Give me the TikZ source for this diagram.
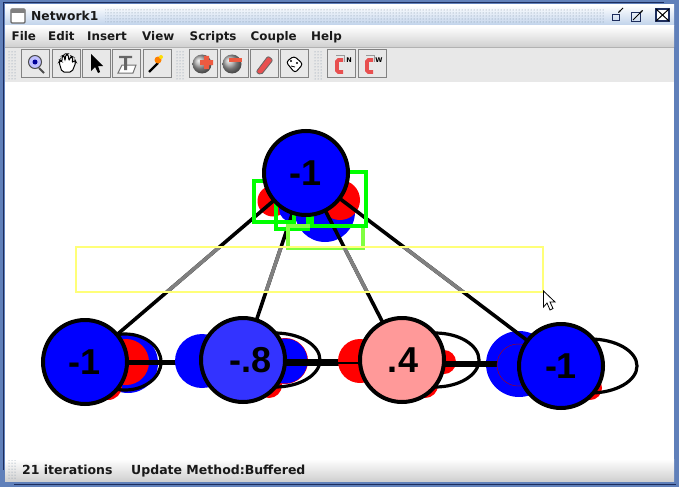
\documentclass[tikz,border=0pt]{standalone}
\usepackage{fontspec}
\setmainfont{DejaVu Sans}
\newfontfamily\neuronfont{Liberation Sans}
\usetikzlibrary{positioning,arrows.meta,shapes.geometric,patterns}
\definecolor{FrameBlue}{RGB}{96,128,186}
\definecolor{FrameDark}{RGB}{28,44,92}
\definecolor{TitleLow}{RGB}{190,209,234}
\definecolor{BarLow}{RGB}{208,208,208}
\definecolor{ToolGray}{RGB}{232,232,232}
\definecolor{ButtonEdge}{RGB}{130,130,130}
\definecolor{GripDots}{RGB}{120,140,160}
\definecolor{ActiveBlue}{RGB}{0,0,255}
\definecolor{MidBlue}{RGB}{51,51,255}
\definecolor{ActiveRed}{RGB}{255,0,0}
\definecolor{PaleRed}{RGB}{255,153,153}
\definecolor{BoxGreen}{RGB}{0,255,0}
\definecolor{PaleGreen}{RGB}{128,255,64}
\definecolor{BoxYellow}{RGB}{255,255,120}
\definecolor{ClampRed}{RGB}{232,80,80}
\tikzset{
  neuron/.style={circle,draw=black,line width=4pt,minimum size=84pt,inner sep=0pt,
    font=\neuronfont\bfseries\fontsize{36}{36}\selectfont},
  blueblob/.style={circle,fill=ActiveBlue,inner sep=0pt},
  redblob/.style={circle,fill=ActiveRed,inner sep=0pt},
  selfloop/.style={ellipse,draw=black,line width=3.2pt,inner sep=0pt},
  synapse/.style={line width=3.6pt,draw=black},
  thicksyn/.style={line width=6pt,draw=black},
  selbox/.style={draw=BoxGreen,line width=3.6pt,fill=none},
  menutext/.style={anchor=base west,inner sep=0pt,font=\bfseries\fontsize{11.9}{12}\selectfont,text=black!90},
  statustext/.style={menutext,font=\bfseries\fontsize{12.5}{13}\selectfont},
  toolbtn/.style={draw=ButtonEdge,line width=0.8pt,fill=ToolGray,minimum size=28pt,inner sep=0pt},
  grip/.style={pattern=dots,pattern color=GripDots}
}
\begin{document}
\begin{tikzpicture}[x=1pt,y=-1pt]
  \useasboundingbox (0,0) rectangle (679,487);
  % window
  \fill[FrameBlue] (0,0) rectangle (679,487);
  \draw[FrameDark,line width=1pt] (3,3) -- (664,3);
  \draw[FrameDark,line width=1pt] (3,3) -- (3,470);
  \fill[white] (5,82) rectangle (674,459);
  \shade[top color=white,bottom color=TitleLow] (5,5) rectangle (674,26);
  \shade[top color=white,bottom color=BarLow] (5,26) rectangle (674,47);
  \fill[ToolGray] (5,47) rectangle (674,82);
  \draw[black!30,line width=0.8pt] (5,47.5) -- (674,47.5);
  \shade[top color=white,bottom color=BarLow] (5,459) rectangle (674,481);
  \draw[FrameDark,line width=1pt] (14,484) -- (676,484);
  \fill[grip] (105,9) rectangle (604,24);
  \fill[grip] (8,50) rectangle (17,79);
  \fill[grip] (176,50) rectangle (185,79);
  \fill[grip] (314,50) rectangle (323,79);
  \fill[grip] (8,460) rectangle (17,479);
  % title bar
  \draw[black!60,line width=1.4pt,fill=white,rounded corners=1pt] (11,9) rectangle (25,23);
  \fill[black!50] (11,9) rectangle (25,13);
  \node[menutext,font=\bfseries\fontsize{12.3}{13}\selectfont] (title) at (31,21) {Network1};
  \draw[FrameDark,line width=1pt] (612,15) rectangle (619,21);
  \draw[black,line width=0.8pt,-{Stealth[length=3pt]}] (623,8) -- (618,13);
  \draw[FrameDark,line width=1pt] (631,13) rectangle (640,22);
  \draw[black,line width=0.8pt,-{Stealth[length=3pt]}] (633,20) -- (643,10);
  \draw[FrameDark,line width=1.2pt,fill=white] (656,9) rectangle (669,21);
  \draw[black,line width=1pt] (656,9) -- (669,21) (656,21) -- (669,9);
  % menu
  \node[menutext] (file) at (11.5,41) {File};
  \node[menutext] (edit) at (48,41) {Edit};
  \node[menutext] (insert) at (87,41) {Insert};
  \node[menutext] (view) at (142,41) {View};
  \node[menutext] (scripts) at (189.5,41) {Scripts};
  \node[menutext] (couple) at (250.5,41) {Couple};
  \node[menutext] (help) at (311,41) {Help};
  % toolbar
  \node[toolbtn] (zoombtn) at (35.5,63.5) {};
  \node[toolbtn,right=1.6pt of zoombtn] (handbtn) {};
  \node[toolbtn,right=1.6pt of handbtn] (arrowbtn) {};
  \node[toolbtn,right=1.6pt of arrowbtn] (textbtn) {};
  \node[toolbtn,right=1.6pt of textbtn] (wandbtn) {};
  \node[toolbtn] (plusbtn) at (203.5,63.5) {};
  \node[toolbtn,right=1.6pt of plusbtn] (minusbtn) {};
  \node[toolbtn,right=1.6pt of minusbtn] (eraserbtn) {};
  \node[toolbtn,right=1.6pt of eraserbtn] (facebtn) {};
  \node[toolbtn] (clampnbtn) at (341.5,63.5) {};
  \node[toolbtn,right=1.6pt of clampnbtn] (clampwbtn) {};
  \draw[black!70,line width=2pt] (39,68) -- (44,73);
  \draw[black!70,line width=1pt,fill=blue!25] (35,62) circle (6.5);
  \fill[blue!60!black] (35,62) circle (2.5);
  \draw[black,line width=1pt,fill=white,rounded corners=2pt] (62,72) -- (59,62) -- (60,60) -- (62,62) -- (62,56) -- (64,55) -- (65,61) -- (66,54) -- (68,54) -- (69,61) -- (71,56) -- (73,57) -- (72,63) -- (75,60) -- (76,62) -- (72,72) -- cycle;
  \fill[black] (91,54) -- (91,71) -- (95,67) -- (98,73) -- (100,72) -- (98,66) -- (103,66) -- cycle;
  \draw[black!55,line width=1pt,fill=white] (122,65) -- (136,65) -- (133,73) -- (118,73) -- cycle;
  \fill[black!60] (119,56) rectangle (132,58) (124,56) rectangle (127,70);
  \draw[black,line width=2.4pt] (149,72) -- (158,63);
  \fill[orange] (158,60) circle (3.5);
  \fill[yellow!80!orange] (161,57) circle (2);
  \shade[ball color=black!35] (202,64) circle (9.5);
  \fill[ClampRed!80!orange] (204,56) rectangle (209,69) (200,60) rectangle (213,65);
  \shade[ball color=black!35] (232,64) circle (9.5);
  \fill[ClampRed!80!orange] (229,58) rectangle (242,62);
  \draw[black!60,line width=0.8pt,fill=ClampRed,rounded corners=2pt] (256,72) -- (268,56) -- (273,60) -- (261,75) -- cycle;
  \draw[black,line width=1pt,fill=white,rounded corners=3pt] (286,62) -- (294,56) -- (303,64) -- (295,73) -- cycle;
  \fill[black] (291,61) circle (1.1) (297,63) circle (1.1);
  \draw[black,line width=0.8pt] (291,66) -- (295,67);
  \draw[black!40,line width=1pt] (336,56) -- (345,56) (344,56) -- (344,62);
  \draw[ClampRed,line width=3.6pt,rounded corners=1.5pt] (343,60) -- (337,60) -- (337,72) -- (343,72);
  \node[font=\bfseries\fontsize{6.5}{7}\selectfont,inner sep=0pt] (labeln) at (349,60) {N};
  \draw[black!40,line width=1pt] (366,56) -- (375,56) (374,56) -- (374,62);
  \draw[ClampRed,line width=3.6pt,rounded corners=1.5pt] (373,60) -- (367,60) -- (367,72) -- (373,72);
  \node[font=\bfseries\fontsize{6.5}{7}\selectfont,inner sep=0pt] (labelw) at (379,60) {W};
  % activation under the outgoing lines
  \node[redblob,minimum size=31pt] (rtopl) at (273,201) {};
  \node[blueblob,minimum size=60pt] (btopr) at (325,212) {};
  \node[redblob,minimum size=40pt] (rtopr) at (340,200) {};
  \node[blueblob,minimum size=26pt] (btopl) at (292,209) {};
  \node[blueblob,minimum size=60pt] (bone) at (128,363) {};
  \node[redblob,minimum size=46pt] (rone) at (126,362) {};
  \node[redblob,minimum size=28pt] (rones) at (108,386) {};
  \node[redblob,minimum size=26pt] (rtwos) at (269,385) {};
  \node[redblob,minimum size=46pt] (rtwo) at (285,361) {};
  \node[blueblob,minimum size=45pt] (btwo) at (285,361) {};
  \node[redblob,minimum size=24pt] (rthree) at (444,362) {};
  \node[redblob,minimum size=26pt] (rthrees) at (425,385) {};
  \node[redblob,minimum size=24pt] (rfours) at (590,388) {};
  \node[blueblob,minimum size=66pt] (bfour) at (519,364) {};
  % self connections
  \node[selfloop,minimum width=72pt,minimum height=56pt] (loopone) at (125,362) {};
  \node[selfloop,minimum width=90pt,minimum height=54pt] (looptwo) at (275,360) {};
  \node[selfloop,minimum width=88pt,minimum height=54pt] (loopthree) at (435,360) {};
  \node[selfloop,minimum width=94pt,minimum height=54pt] (loopfour) at (590,366) {};
  % neurons, drawn again below on top of everything
  \coordinate (ctop) at (306,173);
  \coordinate (cone) at (85,362);
  \coordinate (ctwo) at (243,360);
  \coordinate (cthree) at (402,360);
  \coordinate (cfour) at (561,366);
  \draw[synapse] (ctop) -- (cone);
  \draw[synapse] (ctop) -- (ctwo);
  \draw[synapse] (ctop) -- (cthree);
  \draw[synapse] (ctop) -- (cfour);
  \draw[thicksyn,line width=5pt] (cone) -- (ctwo |- cone);
  \draw[thicksyn,line width=7pt] (ctwo |- cone) -- (cthree |- cone);
  \draw[thicksyn] (cthree |- 0,364) -- (cfour |- 0,364);
  % activation over the incoming lines
  \node[blueblob,minimum size=54pt] (btwol) at (202,361) {};
  \node[redblob,minimum size=44pt] (rthreel) at (360,361) {};
  \draw[black,line width=1.4pt] (rthreel.west |- 0,363) -- (cthree |- 0,363);
  \node[blueblob,draw=ActiveRed!70!black,line width=0.4pt,minimum size=42pt] (bfouri) at (518,365) {};
  % selection
  \draw[selbox] (254,181) rectangle (294,222);
  \draw[selbox] (276,200) rectangle (308,229);
  \draw[selbox,draw=PaleGreen] (288,226) rectangle (363,248);
  \draw[selbox] (312,172) rectangle (366,226);
  \begin{scope}
    \clip (76,247) rectangle (543,292);
    \draw[synapse,draw=black!50] (ctop) -- (cone);
    \draw[synapse,draw=black!50] (ctop) -- (ctwo);
    \draw[synapse,draw=black!50] (ctop) -- (cthree);
    \draw[synapse,draw=black!50] (ctop) -- (cfour);
  \end{scope}
  \draw[BoxYellow,line width=1.1pt] (76,247) rectangle (543,292);
  \node[neuron,fill=ActiveBlue] (top) at (ctop) {-1};
  \node[neuron,fill=ActiveBlue] (one) at (cone) {-1};
  \node[neuron,fill=MidBlue,text depth=0pt] (two) at (ctwo) {\hspace{15pt}-.8};
  \node[neuron,fill=PaleRed] (three) at (cthree) {\raisebox{-1.5pt}{\hspace{2pt}.4}};
  \node[neuron,fill=ActiveBlue] (four) at (cfour) {-1};
  % cursor
  \draw[black,line width=0.8pt,fill=white] (543.5,291) -- (543.5,307) -- (547,303) -- (550,310) -- (553,308.5) -- (550,302) -- (555,302) -- cycle;
  % status bar
  \node[statustext] (iterations) at (22,474) {21 iterations};
  \node[statustext] (method) at (131,474) {Update Method:Buffered};
\end{tikzpicture}
\end{document}
